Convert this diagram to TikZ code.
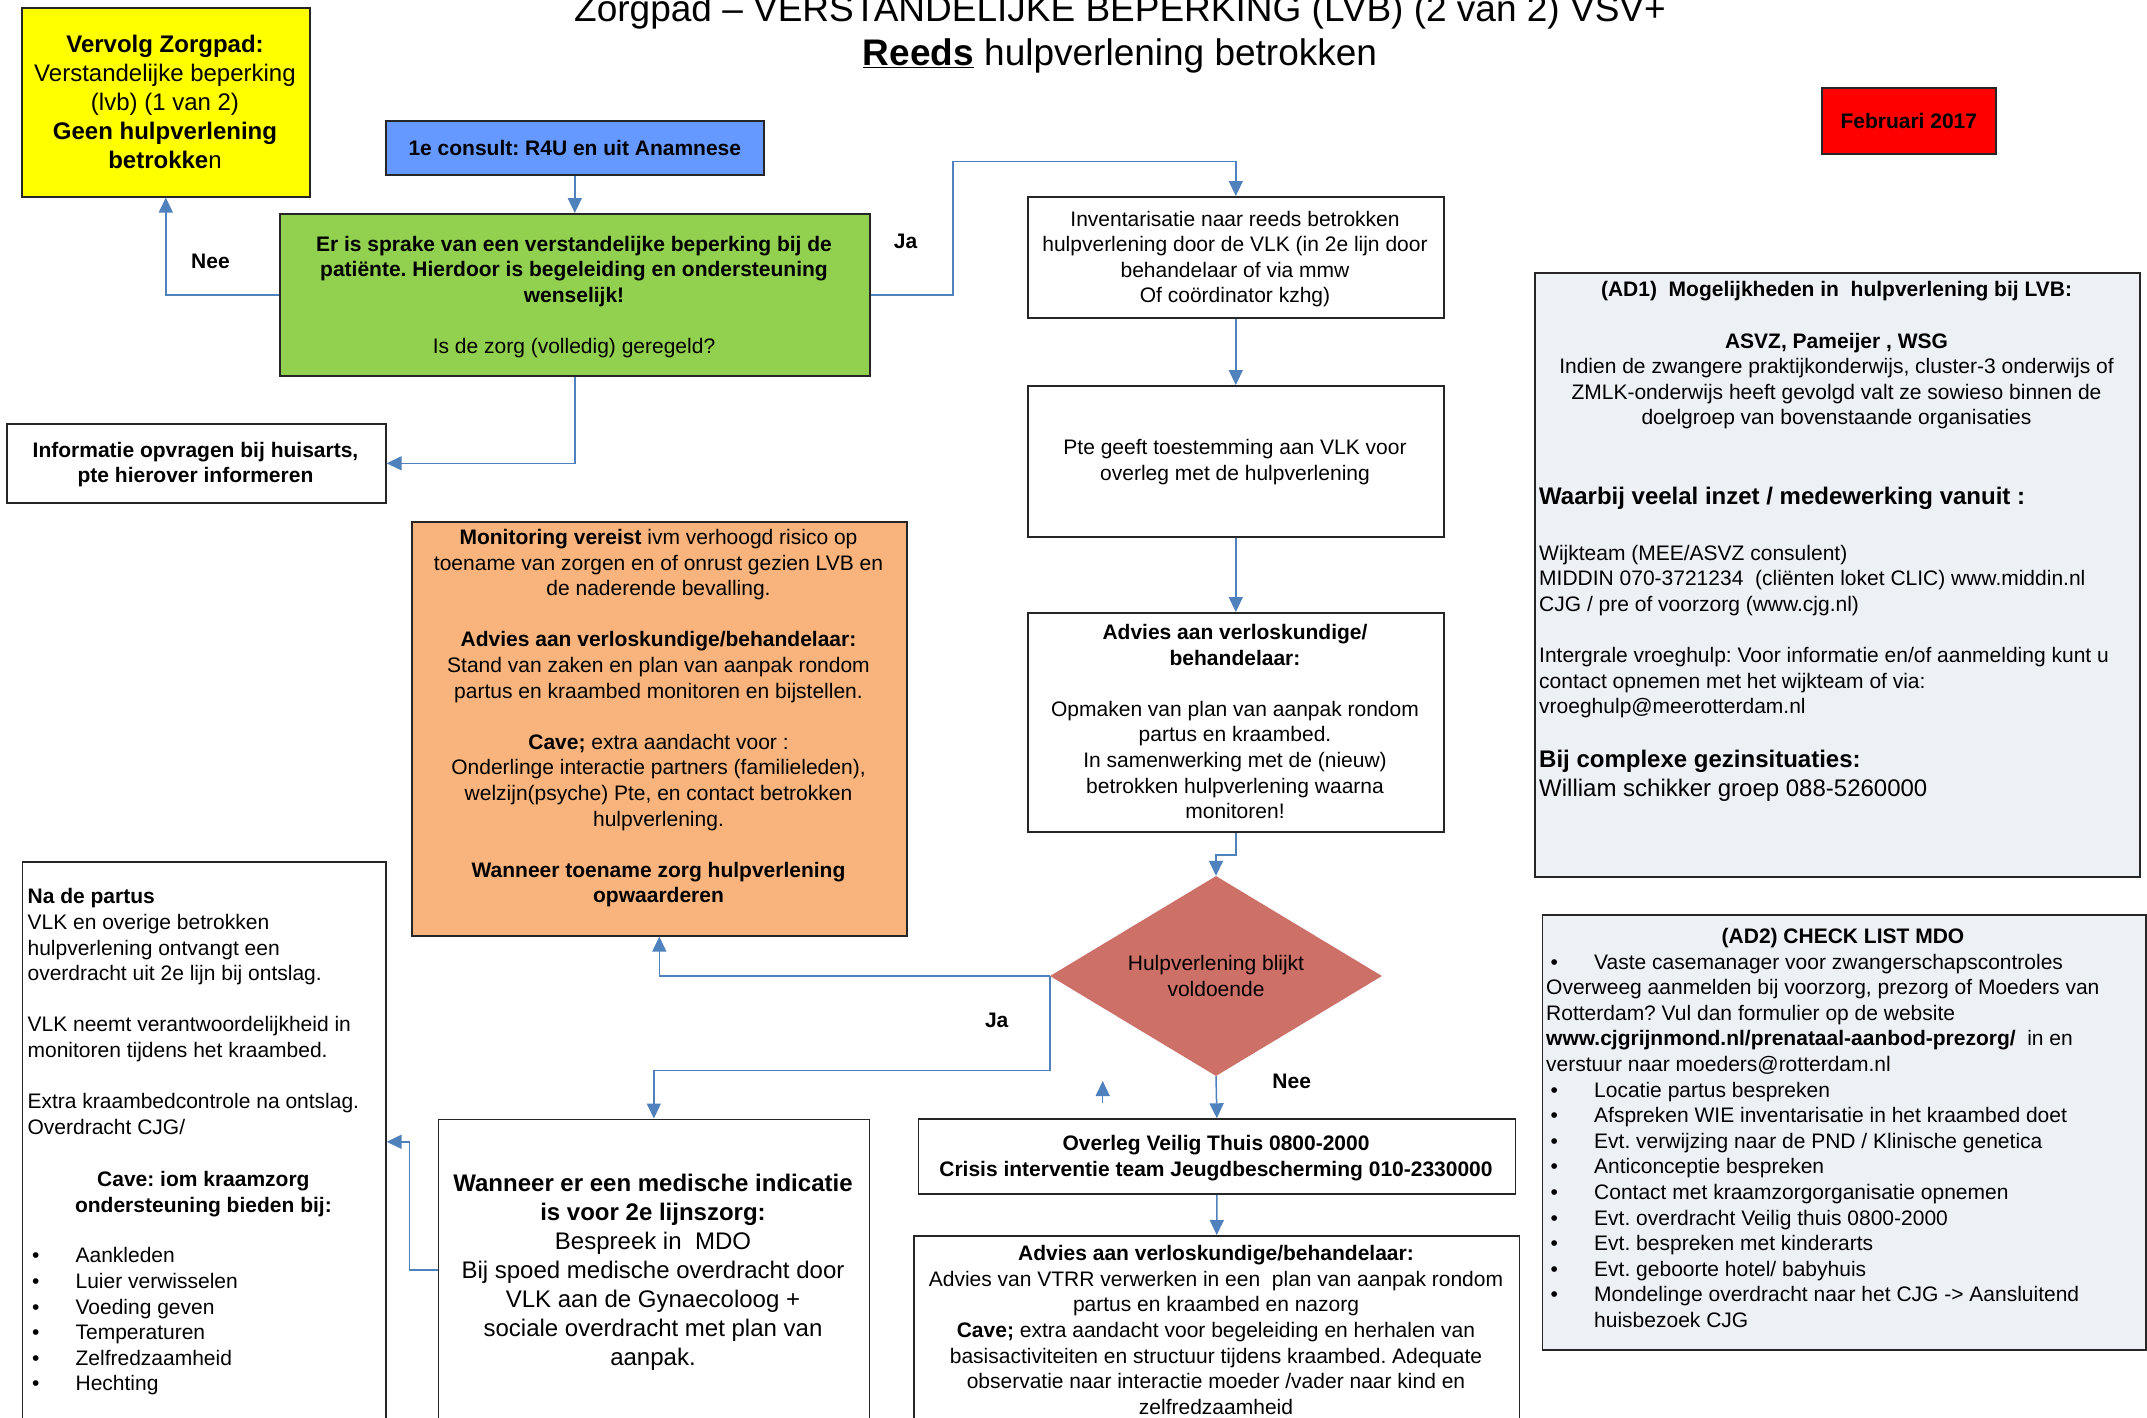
\documentclass[tikz,border=0pt]{standalone}
\usepackage{fontspec}
\setmainfont{Liberation Sans}
\usetikzlibrary{arrows.meta,shapes.geometric}
\definecolor{connc}{HTML}{4F81BD}
\definecolor{yel}{HTML}{FFFF00}
\definecolor{bluebox}{HTML}{6699FF}
\definecolor{greenbox}{HTML}{92D050}
\definecolor{orangebox}{HTML}{F8B47C}
\definecolor{diac}{HTML}{CC7068}
\definecolor{adfill}{HTML}{EDF0F5}
\definecolor{redbox}{HTML}{FF0000}
\newcommand\szA{\fontsize{21pt}{25.6pt}\selectfont}
\newcommand\szB{\fontsize{24pt}{29pt}\selectfont}
\newcommand\szT{\fontsize{37pt}{44.5pt}\selectfont}
\newcommand\mybul{\hspace*{4.5pt}\makebox[43.5pt][l]{•}}
\frenchspacing
\begin{document}
\begin{tikzpicture}[x=1pt,y=-1pt,
 box/.style={draw=black!85, line width=1.6pt, inner sep=0pt, anchor=north west},
 conn/.style={draw=connc, line width=1.5pt, -{Triangle[length=15pt,width=14pt]}},
 txt/.style={inner sep=0pt, align=center, font=\szA, anchor=north},
 txtl/.style={inner sep=0pt, align=left, font=\szA, anchor=north west},
 lbl/.style={inner sep=0pt, font=\szA\bfseries}]
\useasboundingbox (0,0) rectangle (2147,1418);
\clip (0,0) rectangle (2147,1418);
\fill[white] (0,0) rectangle (2147,1418);

% ---------- boxes ----------
\node[box, fill=yel, minimum width=288pt, minimum height=189pt] (yellow) at (21,7) {};
\node[box, fill=bluebox, minimum width=378pt, minimum height=54pt, font=\szA\bfseries] (blue) at (385,120) {1e consult: R4U en uit Anamnese};
\node[box, fill=greenbox, minimum width=590pt, minimum height=162pt] (green) at (279,213) {};
\node[box, minimum width=379pt, minimum height=79pt] (info) at (6,423) {};
\node[box, minimum width=416pt, minimum height=121pt] (inv) at (1027,196) {};
\node[box, minimum width=416pt, minimum height=151pt] (pte) at (1027,385) {};
\node[box, minimum width=416pt, minimum height=219pt] (adv) at (1027,612) {};
\node[box, fill=orangebox, minimum width=495pt, minimum height=414pt] (orange) at (411,521) {};
\node[box, minimum width=363.3pt, minimum height=560pt] (na) at (21.7,861) {};
\node[box, minimum width=431.1pt, minimum height=301pt] (wann) at (437.5,1118.5) {};
\node[box, minimum width=596.8pt, minimum height=75pt] (overleg) at (917.7,1118.3) {};
\node[box, minimum width=605.2pt, minimum height=186pt] (adv2) at (913.3,1235) {};
\node[box, fill=redbox, minimum width=174pt, minimum height=66pt, font=\szA\bfseries] (feb) at (1821,87) {Februari 2017};
\node[box, fill=adfill, minimum width=605pt, minimum height=604pt] (ad1) at (1534,272) {};
\node[box, fill=adfill, minimum width=603.5pt, minimum height=435pt] (ad2) at (1541.5,914) {};
\node[diamond, fill=diac, minimum width=332pt, minimum height=200pt, inner sep=0pt] (dia) at (1216,976) {};

% ---------- texts ----------
\node[txt, font=\szT] (title) at (1120,-6) {Zorgpad – VERSTANDELIJKE BEPERKING (LVB) (2 van 2) VSV+\\\textbf{\underline{Reeds}} hulpverlening betrokken};
\node[txt, font=\szB] (tyellow) at (165,34.5) {\textbf{Vervolg Zorgpad:}\\Verstandelijke beperking\\(lvb) (1 van 2)\\\textbf{Geen hulpverlening}\\\textbf{betrokke}n};
\node[txt] (tgreen) at (574,235.7) {\textbf{Er is sprake van een verstandelijke beperking bij de}\\\textbf{patiënte. Hierdoor is begeleiding en ondersteuning}\\\textbf{wenselijk!}\\~\\Is de zorg (volledig) geregeld?};
\node[txt, font=\szA\bfseries] (tinfo) at (195.5,441.7) {Informatie opvragen bij huisarts,\\pte hierover informeren};
\node[txt] (tinv) at (1235,210.7) {Inventarisatie naar reeds betrokken\\hulpverlening door de VLK (in 2e lijn door\\behandelaar of via mmw\\Of coördinator kzhg)};
\node[txt] (tpte) at (1235,439) {Pte geeft toestemming aan VLK voor\\overleg met de hulpverlening};
\node[txt] (tadv) at (1235,624) {\textbf{Advies aan verloskundige/}\\\textbf{behandelaar:}\\~\\Opmaken van plan van aanpak rondom\\partus en kraambed.\\In samenwerking met de (nieuw)\\betrokken hulpverlening waarna\\monitoren!};
\node[txt] (torange) at (658.5,529.1) {\textbf{Monitoring vereist} ivm verhoogd risico op\\toename van zorgen en of onrust gezien LVB en\\de naderende bevalling.\\~\\\textbf{Advies aan verloskundige/behandelaar:}\\Stand van zaken en plan van aanpak rondom\\partus en kraambed monitoren en bijstellen.\\~\\\textbf{Cave;} extra aandacht voor :\\Onderlinge interactie partners (familieleden),\\welzijn(psyche) Pte, en contact betrokken\\hulpverlening.\\~\\\textbf{Wanneer toename zorg hulpverlening}\\\textbf{opwaarderen}};
\node[inner sep=0pt, align=center, font=\szA] (tdia) at (1216,976) {Hulpverlening blijkt\\voldoende};
\node[txt, font=\szA\bfseries] (toverleg) at (1216,1135.1) {Overleg Veilig Thuis 0800-2000\\Crisis interventie team Jeugdbescherming 010-2330000};
\node[txt] (tadv2) at (1216,1245.3) {\textbf{Advies aan verloskundige/behandelaar:}\\Advies van VTRR verwerken in een\ \ plan van aanpak rondom\\partus en kraambed en nazorg\\\textbf{Cave;} extra aandacht voor begeleiding en herhalen van\\basisactiviteiten en structuur tijdens kraambed. Adequate\\observatie naar interactie moeder /vader naar kind en\\zelfredzaamheid};
\node[txt, font=\szB] (twann) at (653,1173.4) {\textbf{Wanneer er een medische indicatie}\\\textbf{is voor 2e lijnszorg:}\\Bespreek in\ \ MDO\\Bij spoed medische overdracht door\\VLK aan de Gynaecoloog +\\sociale overdracht met plan van\\aanpak.};
\node[txtl] (tna1) at (27.4,888.4) {\textbf{Na de partus}\\VLK en overige betrokken\\hulpverlening ontvangt een\\overdracht uit 2e lijn bij ontslag.\\~\\VLK neemt verantwoordelijkheid in\\monitoren tijdens het kraambed.\\~\\Extra kraambedcontrole na ontslag.\\Overdracht CJG/};
\node[txt, font=\szA\bfseries] (tna2) at (203.4,1171.4) {Cave: iom kraamzorg\\ondersteuning bieden bij:};
\node[txtl] (tna3) at (27.4,1247.4) {\mybul Aankleden\\\mybul Luier verwisselen\\\mybul Voeding geven\\\mybul Temperaturen\\\mybul Zelfredzaamheid\\\mybul Hechting};
\node[txt] (tad1a) at (1836.5,281.4) {\textbf{(AD1)\ \ Mogelijkheden in\ \ hulpverlening bij LVB:}\\~\\\textbf{ASVZ, Pameijer , WSG}\\Indien de zwangere praktijkonderwijs, cluster-3 onderwijs of\\ZMLK-onderwijs heeft gevolgd valt ze sowieso binnen de\\doelgroep van bovenstaande organisaties};
\node[txtl, font=\szB\bfseries] (tad1b) at (1539,486.9) {Waarbij veelal inzet / medewerking vanuit :};
\node[txtl] (tad1c) at (1539,544.7) {Wijkteam (MEE/ASVZ consulent)\\MIDDIN 070-3721234\ \ (cliënten loket CLIC) www.middin.nl\\CJG / pre of voorzorg (www.cjg.nl)\\~\\Intergrale vroeghulp: Voor informatie en/of aanmelding kunt u\\contact opnemen met het wijkteam of via:\\vroeghulp@meerotterdam.nl};
\node[txtl, font=\szB] (tad1d) at (1539,749.5) {\textbf{Bij complexe gezinsituaties:}\\William schikker groep 088-5260000};
\node[txt, font=\szA\bfseries] (tad2t) at (1843,927.6) {(AD2) CHECK LIST MDO};
\node[txtl] (tad2b) at (1546,953.7) {\mybul Vaste casemanager voor zwangerschapscontroles\\Overweeg aanmelden bij voorzorg, prezorg of Moeders van\\Rotterdam? Vul dan formulier op de website\\\textbf{www.cjgrijnmond.nl/prenataal-aanbod-prezorg/}\ \ in en\\verstuur naar moeders@rotterdam.nl\\\mybul Locatie partus bespreken\\\mybul Afspreken WIE inventarisatie in het kraambed doet\\\mybul Evt. verwijzing naar de PND / Klinische genetica\\\mybul Anticonceptie bespreken\\\mybul Contact met kraamzorgorganisatie opnemen\\\mybul Evt. overdracht Veilig thuis 0800-2000\\\mybul Evt. bespreken met kinderarts\\\mybul Evt. geboorte hotel/ babyhuis\\\mybul Mondelinge overdracht naar het CJG -> Aansluitend\\\hspace*{48pt}huisbezoek CJG};

% ---------- labels ----------
\node[lbl] (nee1) at (210.5,261) {Nee};
\node[lbl] (ja1) at (905.6,241.7) {Ja};
\node[lbl] (ja2) at (996.7,1020) {Ja};
\node[lbl] (nee2) at (1291.7,1081) {Nee};

% ---------- connectors ----------
\draw[conn] (blue.south) -- (green.north);
\draw[conn] (green.west) -| (yellow.south);
\draw[conn] (green.east) -- ++(82.5,0) |- ([yshift=34.3pt]inv.north) -- (inv.north);
\draw[conn] (green.south) |- (info.east);
\draw[conn] (inv.south) -- (pte.north);
\draw[conn] (pte.south) -- (adv.north);
\draw[conn] (adv.south) -- ++(0,22.3) -| (dia.north);
\draw[conn] (dia.west) -| (orange.south);
\draw[conn] (dia.west) -- ++(0,94.3) -| (wann.north);
\draw[conn] (dia.south) -- (overleg.north);
\draw[conn] (overleg.south) -- (adv2.north);
\draw[conn] (wann.west) -- ++(-28.1,0) |- (na.east);
\coordinate (s1) at (1102.7,1103);
\coordinate (s2) at (1102.7,1081);
\draw[conn] (s1) -- (s2);
\end{tikzpicture}
\end{document}
